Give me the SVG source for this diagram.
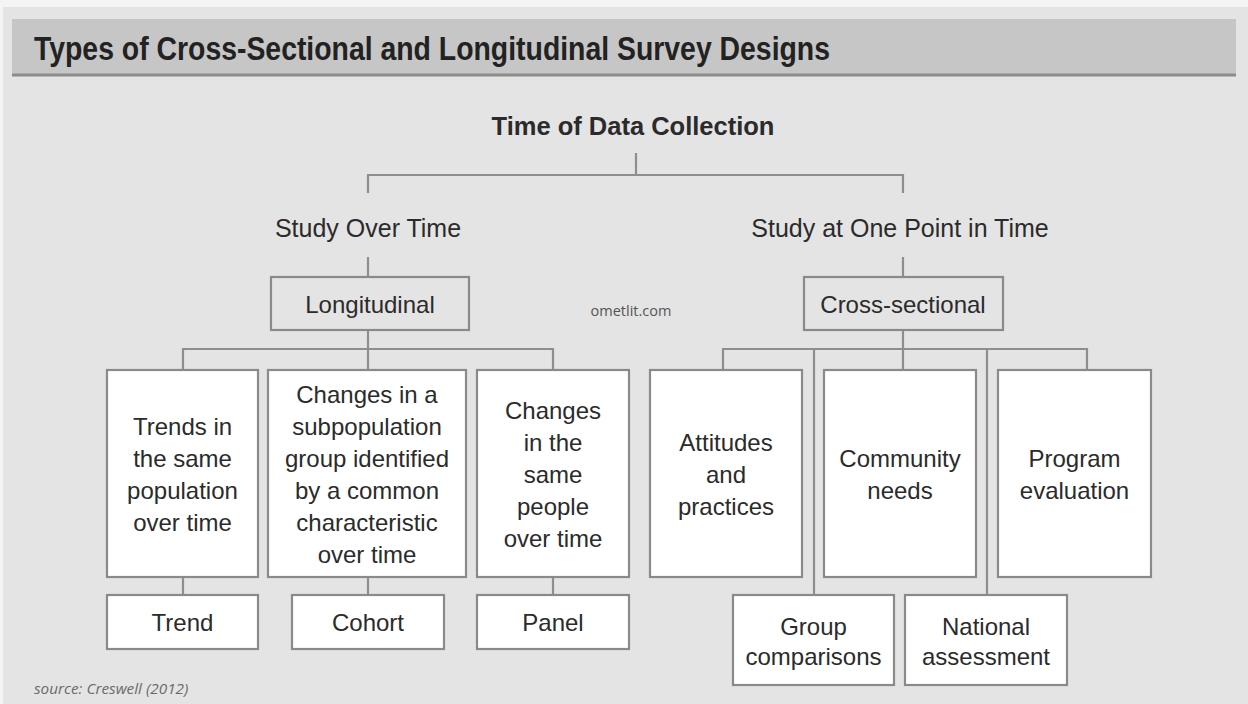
<svg xmlns="http://www.w3.org/2000/svg" width="1248" height="704" viewBox="0 0 1248 704">
  <defs>
    <style>
      .bg { fill: #e4e4e4; }
      .band { fill: #c6c6c6; }
      .band-edge { stroke: #8c8c8c; stroke-width: 3; }
      .title { font-family: "Liberation Sans Narrow", "Liberation Sans", Arial, sans-serif; font-weight: bold; font-size: 33px; fill: #222; }
      .head { font-family: "Liberation Sans", Arial, sans-serif; font-size: 25px; fill: #2b2b2b; text-anchor: middle; }
      .bold { font-weight: bold; font-size: 25.5px; }
      .lbl { font-family: "Liberation Sans", Arial, sans-serif; font-size: 24px; fill: #2b2b2b; text-anchor: middle; }
      .box { fill: #ffffff; stroke: #8a8a8a; stroke-width: 2.2; }
      .hbox { fill: none; stroke: #8a8a8a; stroke-width: 2.2; }
      .wire { fill: none; stroke: #8e8e8e; stroke-width: 2.2; }
      .mark { font-family: "Open Sans", "Liberation Sans", sans-serif; font-size: 14.5px; fill: #555; text-anchor: middle; }
      .src { font-family: "Open Sans", "Liberation Sans", sans-serif; font-style: italic; font-size: 15.3px; fill: #6a6a6a; }
    </style>
  </defs>

  <!-- page -->
  <rect x="0" y="0" width="1248" height="704" fill="#f4f4f4"/>
  <rect class="bg" x="3" y="7" width="1245" height="697"/>

  <!-- title band -->
  <g id="title">
    <rect class="band" x="12" y="19" width="1224" height="57"/>
    <line class="band-edge" x1="12" y1="75" x2="1236" y2="75"/>
    <text class="title" x="34" y="60" textLength="796" lengthAdjust="spacingAndGlyphs">Types of Cross-Sectional and Longitudinal Survey Designs</text>
  </g>

  <!-- connectors -->
  <g id="connectors" class="wire">
    <path d="M636 153 V175"/>
    <path d="M368 193 V175 H903 V193"/>
    <path d="M368 257 V277"/>
    <path d="M903 257 V277"/>
    <path d="M368 330 V349"/>
    <path d="M183 370 V349 H553 V370"/>
    <path d="M368 349 V370"/>
    <path d="M903 330 V349"/>
    <path d="M723 370 V349 H1087 V370"/>
    <path d="M903 349 V370"/>
    <path d="M814 349 V595"/>
    <path d="M987 349 V595"/>
    <path d="M183 577 V595"/>
    <path d="M368 577 V595"/>
    <path d="M553 577 V595"/>
  </g>

  <!-- headings -->
  <g id="root">
    <text class="head bold" x="633" y="135">Time of Data Collection</text>
  </g>
  <g id="over-time">
    <text class="head" x="368" y="237">Study Over Time</text>
  </g>
  <g id="one-point">
    <text class="head" x="900" y="237">Study at One Point in Time</text>
  </g>

  <g id="longitudinal">
    <rect class="hbox" x="271" y="277" width="198" height="53"/>
    <text class="lbl" x="370" y="313">Longitudinal</text>
  </g>
  <g id="cross-sectional">
    <rect class="hbox" x="804" y="277" width="199" height="53"/>
    <text class="lbl" x="903" y="313">Cross-sectional</text>
  </g>

  <text class="mark" x="631" y="316">ometlit.com</text>

  <!-- longitudinal branch -->
  <g id="trends-desc">
    <rect class="box" x="107" y="370" width="151" height="207"/>
    <text class="lbl" x="182.5" y="435">Trends in</text>
    <text class="lbl" x="182.5" y="467">the same</text>
    <text class="lbl" x="182.5" y="499">population</text>
    <text class="lbl" x="182.5" y="531">over time</text>
  </g>
  <g id="cohort-desc">
    <rect class="box" x="268" y="370" width="198" height="207"/>
    <text class="lbl" x="367" y="403">Changes in a</text>
    <text class="lbl" x="367" y="435">subpopulation</text>
    <text class="lbl" x="367" y="467">group identified</text>
    <text class="lbl" x="367" y="499">by a common</text>
    <text class="lbl" x="367" y="531">characteristic</text>
    <text class="lbl" x="367" y="563">over time</text>
  </g>
  <g id="panel-desc">
    <rect class="box" x="477" y="370" width="152" height="207"/>
    <text class="lbl" x="553" y="419">Changes</text>
    <text class="lbl" x="553" y="451">in the</text>
    <text class="lbl" x="553" y="483">same</text>
    <text class="lbl" x="553" y="515">people</text>
    <text class="lbl" x="553" y="547">over time</text>
  </g>
  <g id="trend">
    <rect class="box" x="107" y="595" width="151" height="54"/>
    <text class="lbl" x="182.5" y="631">Trend</text>
  </g>
  <g id="cohort">
    <rect class="box" x="292" y="595" width="152" height="54"/>
    <text class="lbl" x="368" y="631">Cohort</text>
  </g>
  <g id="panel">
    <rect class="box" x="477" y="595" width="152" height="54"/>
    <text class="lbl" x="553" y="631">Panel</text>
  </g>

  <!-- cross-sectional branch -->
  <g id="attitudes">
    <rect class="box" x="650" y="370" width="152" height="207"/>
    <text class="lbl" x="726" y="451">Attitudes</text>
    <text class="lbl" x="726" y="483">and</text>
    <text class="lbl" x="726" y="515">practices</text>
  </g>
  <g id="community">
    <rect class="box" x="824" y="370" width="152" height="207"/>
    <text class="lbl" x="900" y="467">Community</text>
    <text class="lbl" x="900" y="499">needs</text>
  </g>
  <g id="program">
    <rect class="box" x="998" y="370" width="153" height="207"/>
    <text class="lbl" x="1074.5" y="467">Program</text>
    <text class="lbl" x="1074.5" y="499">evaluation</text>
  </g>
  <g id="group">
    <rect class="box" x="733" y="595" width="161" height="90"/>
    <text class="lbl" x="813.5" y="635">Group</text>
    <text class="lbl" x="813.5" y="665">comparisons</text>
  </g>
  <g id="national">
    <rect class="box" x="905" y="595" width="162" height="90"/>
    <text class="lbl" x="986" y="635">National</text>
    <text class="lbl" x="986" y="665">assessment</text>
  </g>

  <text class="src" x="34" y="694">source: Creswell (2012)</text>
</svg>
